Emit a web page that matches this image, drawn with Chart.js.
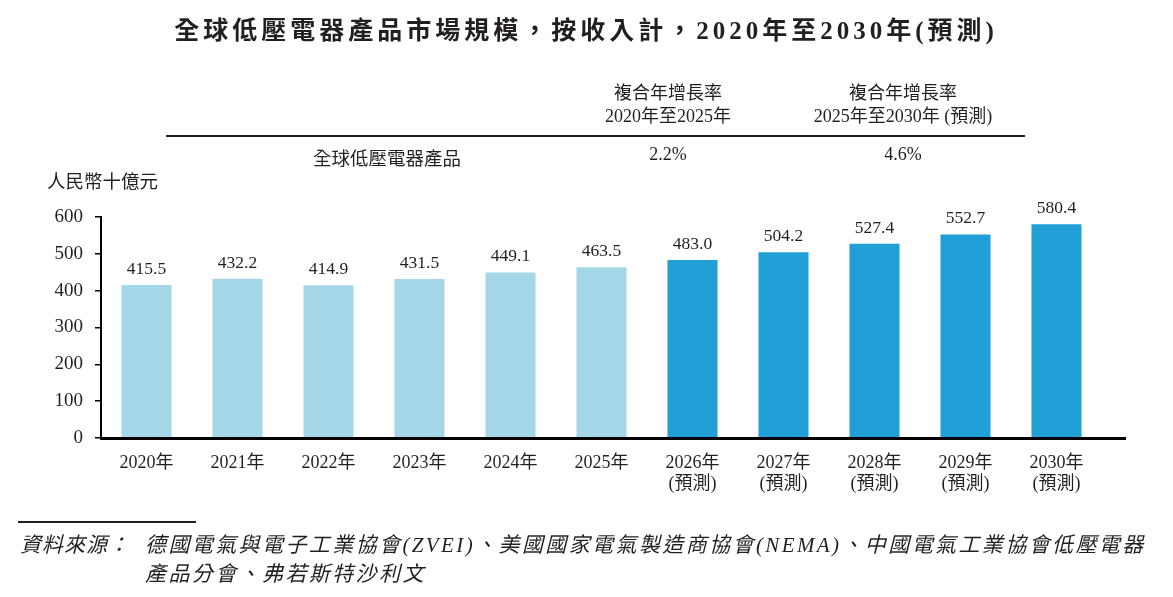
<!DOCTYPE html>
<html>
<head>
<meta charset="utf-8">
<script src="https://cdn.jsdelivr.net/npm/chart.js@4.4.0/dist/chart.umd.min.js"></script>
<style>
  html,body{margin:0;padding:0;background:#fff;}
  #wrap{position:relative;width:1173px;height:597px;overflow:hidden;font-family:"Liberation Serif","Noto Sans CJK TC",serif;color:#231f20;}
  #c{position:absolute;left:0;top:0;}
  .t{position:absolute;white-space:nowrap;}
  .ctr{transform:translateX(-50%);text-align:center;}
</style>
</head>
<body>
<div id="wrap">
  <canvas id="c" width="1173" height="597"></canvas>
  <div class="t ctr" style="left:586px;top:10px;font-size:25px;font-weight:bold;letter-spacing:4px;">全球低壓電器產品市場規模，按收入計，2020年至2030年(預測)</div>
  <div class="t ctr" style="left:668px;top:82px;font-size:18px;line-height:23px;">複合年增長率<br>2020年至2025年</div>
  <div class="t ctr" style="left:903px;top:82px;font-size:18px;line-height:23px;">複合年增長率<br>2025年至2030年 (預測)</div>
  <div class="t" style="left:166px;top:135px;width:859px;height:2px;background:#231f20;"></div>
  <div class="t ctr" style="left:387px;top:144px;font-size:18.5px;">全球低壓電器產品</div>
  <div class="t ctr" style="left:668px;top:144px;font-size:18px;">2.2%</div>
  <div class="t ctr" style="left:903px;top:144px;font-size:18px;">4.6%</div>
  <div class="t" style="left:47px;top:167px;font-size:18.5px;">人民幣十億元</div>
  <div class="t" style="left:18px;top:521px;width:178px;height:1.5px;background:#231f20;"></div>
  <div class="t" style="left:20px;top:531px;font-size:21px;font-style:italic;line-height:29px;letter-spacing:1px;">資料來源：</div>
  <div class="t" style="left:145px;top:531px;font-size:21px;font-style:italic;line-height:29px;letter-spacing:2.4px;">德國電氣與電子工業協會(ZVEI)、美國國家電氣製造商協會(NEMA)、中國電氣工業協會低壓電器<br>產品分會、弗若斯特沙利文</div>
</div>
<script>
const years = ["2020年","2021年","2022年","2023年","2024年","2025年","2026年","2027年","2028年","2029年","2030年"];
const forecastFlags = [false,false,false,false,false,false,true,true,true,true,true];
const values = [415.5,432.2,414.9,431.5,449.1,463.5,483.0,504.2,527.4,552.7,580.4];
const yTicks = [0,100,200,300,400,500,600];

const labels = years.map((y,i)=> forecastFlags[i] ? [y,"(預測)"] : y);
const colors = forecastFlags.map(f => f ? "#21a0d8" : "#a6d7e8");

const valueLabels = {
  id:'valueLabels',
  afterDatasetsDraw(chart){
    const ctx = chart.ctx;
    const meta = chart.getDatasetMeta(0);
    ctx.save();
    ctx.font = '17.5px "Liberation Serif", serif';
    ctx.fillStyle = '#231f20';
    ctx.textAlign = 'center';
    ctx.textBaseline = 'bottom';
    meta.data.forEach((bar,i)=>{
      ctx.fillText(values[i].toFixed(1), bar.x, bar.y - 7);
    });
    ctx.restore();
  }
};
const xAxisLine = {
  id:'xAxisLine',
  afterDatasetsDraw(chart){
    const ctx = chart.ctx, a = chart.chartArea;
    ctx.save();
    ctx.strokeStyle = '#000';
    ctx.lineWidth = 3;
    ctx.beginPath();
    ctx.moveTo(a.left-1, a.bottom+0.5);
    ctx.lineTo(a.right+24, a.bottom+0.5);
    ctx.stroke();
    ctx.restore();
  }
};

new Chart(document.getElementById('c'), {
  type:'bar',
  data:{ labels, datasets:[{ data: values, backgroundColor: colors, borderWidth:0, categoryPercentage:1.0, barPercentage:0.55 }]},
  options:{
    responsive:false, animation:false,
    layout:{ padding:{ left:1, right:71, top:217, bottom:0 } },
    plugins:{ legend:{display:false}, tooltip:{enabled:false} },
    scales:{
      x:{
        grid:{display:false},
        border:{display:false},
        ticks:{ color:'#231f20', font:{family:'"Liberation Serif","Noto Sans CJK TC", serif', size:18, lineHeight:1.2}, padding:6, maxRotation:0, autoSkip:false },
        afterFit(s){ s.height = 159; }
      },
      y:{
        min:0, max:600,
        afterBuildTicks(s){ s.ticks = yTicks.map(v=>({value:v})); },
        grid:{ display:true, drawOnChartArea:false, drawTicks:true, tickLength:6, color:'#000', lineWidth:1.5 },
        border:{ display:true, color:'#000', width:2 },
        ticks:{ color:'#231f20', font:{family:'"Liberation Serif", serif', size:19}, padding:12 },
        afterFit(s){ s.width = 100; }
      }
    }
  },
  plugins:[valueLabels, xAxisLine]
});
</script>
</body>
</html>
